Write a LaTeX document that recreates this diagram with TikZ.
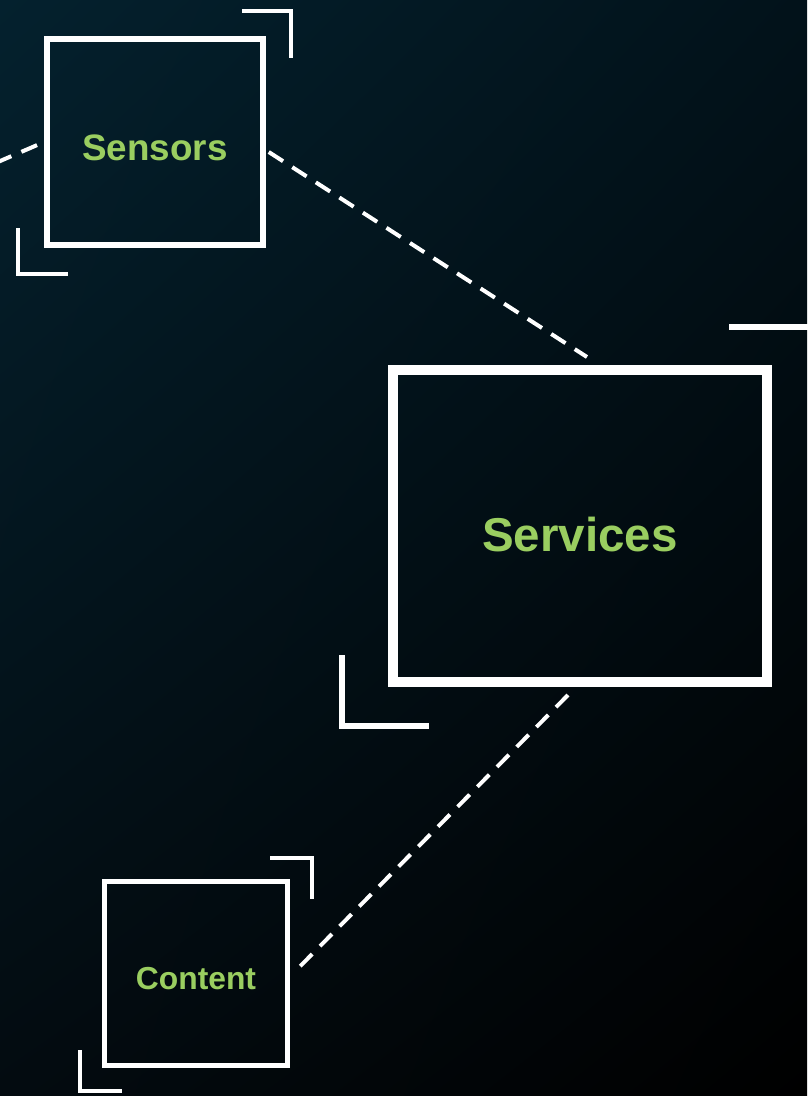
\documentclass[tikz,border=0pt]{standalone}
\usepackage{fontspec}
\setmainfont{Liberation Sans}
\usetikzlibrary{arrows,shadings}
\definecolor{labelgreen}{RGB}{154,206,96}
\definecolor{bgtl}{RGB}{4,33,46}
\definecolor{bgtr}{RGB}{2,18,26}
\definecolor{bgbl}{RGB}{3,11,16}

\begin{document}
\begin{tikzpicture}[line cap=butt,line join=miter,x=1pt,y=-1pt,
  box/.style={draw=white,rectangle,inner sep=0pt,text=labelgreen,text depth=0pt},
  link/.style={draw=white,line width=4pt,dash pattern=on 17pt off 11pt},
  corner/.style={draw=white,line width=#1}]
\useasboundingbox (0,0) rectangle (807,1096);
\shade[upper left=bgtl,upper right=bgtr,lower left=bgbl,lower right=black] (0,0) rectangle (807,1096);
% boxes
\node[box,line width=5.5pt,minimum width=216pt,minimum height=206pt,text height=36pt,
  font=\fontsize{36.8}{40}\selectfont\bfseries] (sensors) at (155,142) {Sensors};
\node[box,line width=10pt,minimum width=374pt,minimum height=312pt,text height=50pt,
  font=\fontsize{47.5}{52}\selectfont\bfseries] (services) at (580,526) {Services};
\node[box,line width=5pt,minimum width=183pt,minimum height=184pt,text height=32pt,
  font=\fontsize{31.8}{35}\selectfont\bfseries] (content) at (196,973.5) {Content};
% corner marks
\draw[corner=4pt] (242,11) -- (291,11) -- (291,58);
\draw[corner=4pt] (18,228) -- (18,274) -- (68,274);
\draw[corner=6pt] (729,327) -- (830,327);
\draw[corner=6pt] (342,655) -- (342,726) -- (429,726);
\draw[corner=4pt] (270,858) -- (312,858) -- (312,899);
\draw[corner=4pt] (80,1050) -- (80,1091) -- (122,1091);
% dashed links
\coordinate (offleft) at (-30,174);
\draw[link] (offleft) -- (sensors.west);
\draw[link] ([xshift=3pt,yshift=-10pt]sensors.east) -- ([xshift=7pt,yshift=8pt]services.north);
\draw[link] ([xshift=-12pt,yshift=-8pt]services.south) -- ([xshift=3pt]content.east);
\end{tikzpicture}
\end{document}
